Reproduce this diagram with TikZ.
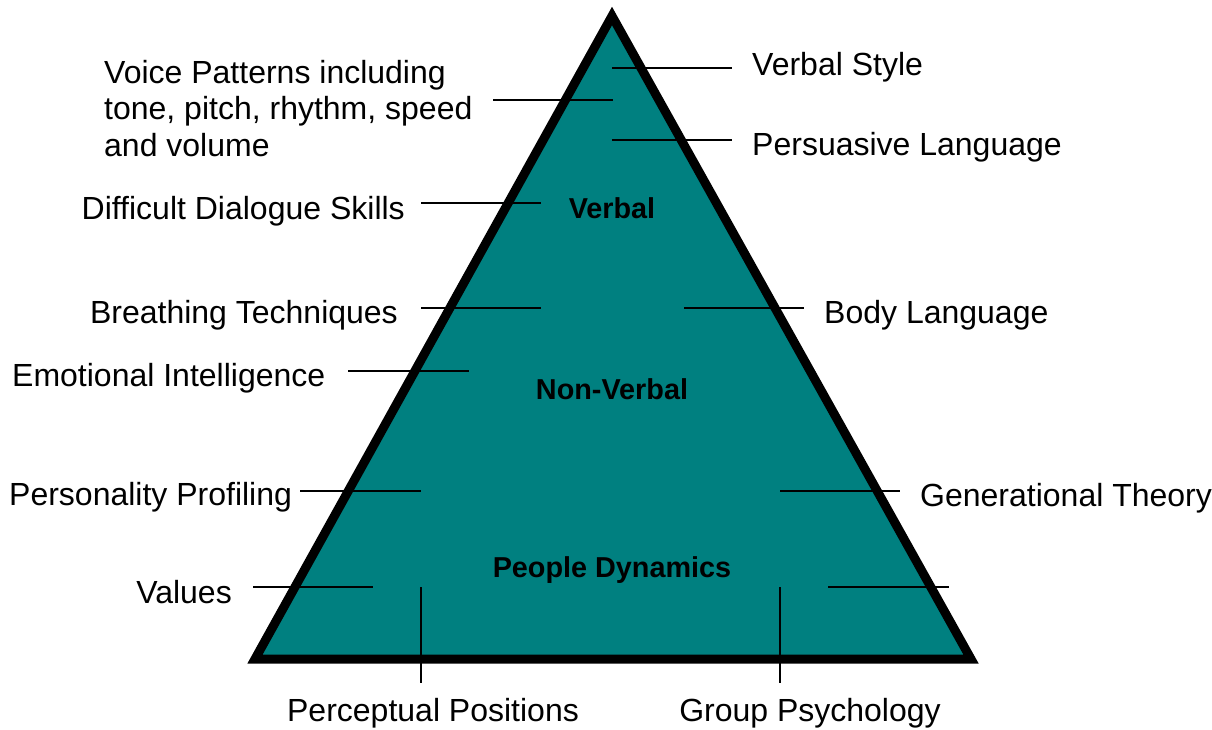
\documentclass[tikz,border=0pt]{standalone}
\usepackage{fontspec}
\setmainfont{Liberation Sans}
\definecolor{teal}{RGB}{0,128,128}
\tikzset{
  lbl/.style={inner sep=0pt, font=\fontsize{32}{36.5}\selectfont},
  lvl/.style={inner sep=0pt, font=\fontsize{28.8}{34}\selectfont\bfseries},
  tick/.style={draw=black, line width=2pt},
  pyramid/.style={draw=black, fill=teal, line width=9pt, line join=miter}
}
\begin{document}
\begin{tikzpicture}[x=1pt,y=-1pt]
\useasboundingbox (0,0) rectangle (1212,729);
% triangle
\coordinate (apex) at (612,16);
\coordinate (bl) at (255,659);
\coordinate (br) at (971,659);
\draw[pyramid] (apex) -- (bl) -- (br) -- cycle;

% level labels
\node[lvl, anchor=base] (verbal) at (612,218) {Verbal};
\node[lvl, anchor=base] (nonverbal) at (612,399) {Non-Verbal};
\node[lvl, anchor=base] (people) at (612,577) {People Dynamics};

% right labels
\node[lbl, anchor=base west] (vstyle) at (752,75) {Verbal Style};
\node[lbl, anchor=base west] (persu) at (752,155) {Persuasive Language};
\node[lbl, anchor=base west] (body) at (824,323) {Body Language};
\node[lbl, anchor=base west] (gen) at (920,506) {Generational Theory};

% left labels
\node[lbl, anchor=base west, align=left] (voice) at (104,156) {Voice Patterns including\\tone, pitch, rhythm, speed\\and volume};
\node[lbl, anchor=base east] (diff) at (405,219) {Difficult Dialogue Skills};
\node[lbl, anchor=base east] (breath) at (398,323) {Breathing Techniques};
\node[lbl, anchor=base west] (emo) at (12,386) {Emotional Intelligence};
\node[lbl, anchor=base west] (pers) at (9,505) {Personality Profiling};
\node[lbl, anchor=base east] (values) at (232,603) {Values};

% bottom labels
\node[lbl, anchor=base] (percep) at (433,721) {Perceptual Positions};
\node[lbl, anchor=base] (group) at (810,721) {Group Psychology};

% tick line end points
\coordinate (a1) at (612,68);  \coordinate (a2) at (732,68);
\coordinate (b1) at (612,140); \coordinate (b2) at (732,140);
\coordinate (c1) at (493,100); \coordinate (c2) at (613,100);
\coordinate (d1) at (421,203); \coordinate (d2) at (541,203);
\coordinate (e1) at (421,308); \coordinate (e2) at (541,308);
\coordinate (f1) at (684,308); \coordinate (f2) at (804,308);
\coordinate (g1) at (348,371); \coordinate (g2) at (469,371);
\coordinate (h1) at (300,491); \coordinate (h2) at (421,491);
\coordinate (i1) at (780,491); \coordinate (i2) at (900,491);
\coordinate (j1) at (253,587); \coordinate (j2) at (373,587);
\coordinate (k1) at (828,587); \coordinate (k2) at (949,587);
\coordinate (l1) at (421,587); \coordinate (l2) at (421,683);
\coordinate (m1) at (780,587); \coordinate (m2) at (780,683);

\draw[tick] (a1) -- (a2);
\draw[tick] (b1) -- (b2);
\draw[tick] (c1) -- (c2);
\draw[tick] (d1) -- (d2);
\draw[tick] (e1) -- (e2);
\draw[tick] (f1) -- (f2);
\draw[tick] (g1) -- (g2);
\draw[tick] (h1) -- (h2);
\draw[tick] (i1) -- (i2);
\draw[tick] (j1) -- (j2);
\draw[tick] (k1) -- (k2);
\draw[tick] (l1) -- (l2);
\draw[tick] (m1) -- (m2);
\end{tikzpicture}
\end{document}
